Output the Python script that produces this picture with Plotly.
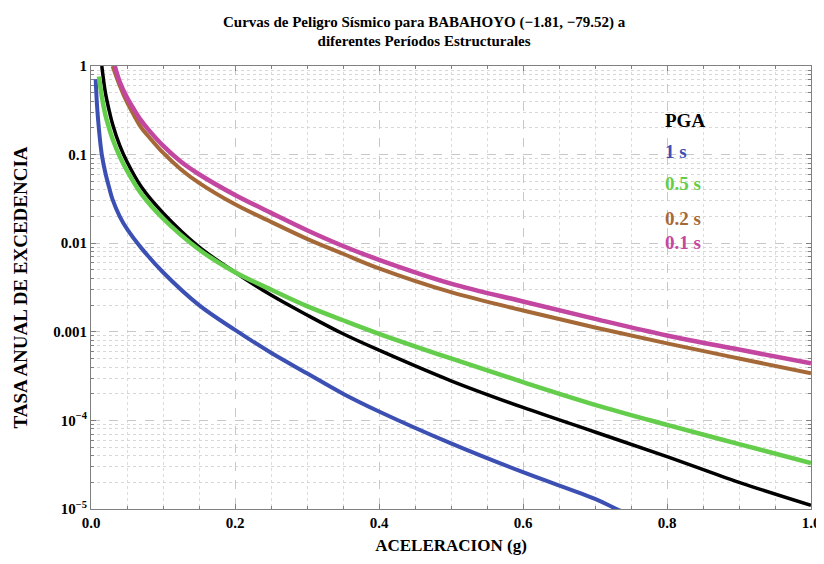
import plotly.graph_objects as go

# Curvas de peligro sísmico
x_pga = [0.015, 0.02, 0.025, 0.03, 0.04, 0.05, 0.07, 0.1, 0.15, 0.2, 0.25, 0.3, 0.35, 0.4, 0.5, 0.6, 0.7, 0.8, 0.9, 1.0]
y_pga = [1.0, 0.5, 0.32, 0.22, 0.126, 0.083, 0.043, 0.022, 0.0091, 0.0047, 0.0026, 0.00155, 9.5e-4, 6.2e-4,
         2.8e-4, 1.4e-4, 7.4e-5, 3.9e-5, 2.0e-5, 1.1e-5]

x_1s = [0.0065, 0.008, 0.01, 0.012, 0.015, 0.02, 0.025, 0.03, 0.04, 0.05, 0.07, 0.1, 0.15, 0.2, 0.25, 0.3,
        0.35, 0.4, 0.5, 0.6, 0.7, 0.73, 0.76]
y_1s = [0.71, 0.4, 0.24, 0.16, 0.1, 0.062, 0.043, 0.031, 0.02, 0.0145, 0.0088, 0.0047, 0.002, 0.00105,
        5.8e-4, 3.4e-4, 2.0e-4, 1.26e-4, 5.5e-5, 2.6e-5, 1.3e-5, 1.0e-5, 8e-6]

x_05s = [0.011, 0.015, 0.02, 0.025, 0.03, 0.04, 0.05, 0.07, 0.1, 0.15, 0.2, 0.25, 0.3, 0.35, 0.4, 0.5, 0.6,
         0.7, 0.8, 0.9, 1.0]
y_05s = [0.76, 0.45, 0.28, 0.2, 0.15, 0.095, 0.066, 0.036, 0.019, 0.0085, 0.0047, 0.003, 0.00195, 0.00135,
         9.5e-4, 5.0e-4, 2.7e-4, 1.5e-4, 8.9e-5, 5.4e-5, 3.3e-5]

x_02s = [0.03, 0.04, 0.05, 0.06, 0.07, 0.08, 0.1, 0.125, 0.15, 0.2, 0.25, 0.3, 0.35, 0.4, 0.5, 0.6, 0.7, 0.8,
         0.9, 1.0]
y_02s = [1.0, 0.6, 0.39, 0.275, 0.2, 0.16, 0.105, 0.068, 0.048, 0.0275, 0.0174, 0.0112, 0.0076, 0.0052,
         0.0028, 0.00174, 0.00112, 7.4e-4, 5.0e-4, 3.4e-4]

x_01s = [0.033, 0.04, 0.05, 0.06, 0.07, 0.08, 0.1, 0.125, 0.15, 0.2, 0.25, 0.3, 0.35, 0.4, 0.5, 0.6, 0.7, 0.8,
         0.9, 1.0]
y_01s = [1.0, 0.66, 0.44, 0.32, 0.24, 0.19, 0.126, 0.083, 0.06, 0.035, 0.022, 0.014, 0.0093, 0.0065, 0.0035,
         0.0022, 0.0014, 9.1e-4, 6.3e-4, 4.4e-4]

nombres = ["PGA", "1 s", "0.5 s", "0.2 s", "0.1 s"]
colores = ["black", "rgb(60,80,180)", "rgb(100,205,75)", "rgb(165,105,55)", "rgb(195,70,160)"]
anchos = [3.5, 4, 4.5, 4, 4.5]

fuente = "Liberation Serif"

fig = go.Figure()
series = [(x_pga, y_pga), (x_1s, y_1s), (x_05s, y_05s), (x_02s, y_02s), (x_01s, y_01s)]
for (xs, ys), nombre, color, ancho in zip(series, nombres, colores, anchos):
    fig.add_trace(go.Scatter(x=xs, y=ys, mode="lines", name=nombre,
                             line=dict(color=color, width=ancho, shape="spline", smoothing=1)))

# Leyenda como texto dentro del gráfico
pos_leyenda = [0.905, 0.836, 0.762, 0.684, 0.602]
for nombre, color, yp in zip(nombres, colores, pos_leyenda):
    fig.add_annotation(x=0.795, y=yp, xref="paper", yref="paper",
                       text="<b>%s</b>" % nombre, showarrow=False, xanchor="left",
                       font=dict(family=fuente, size=19, color=color))

grid_major = dict(gridcolor="rgb(200,200,200)", griddash="dash", gridwidth=1)

# la página tiene 8px de margen en el body; la figura sobresale a la derecha
# para que la etiqueta "1.0" quede cortada como en el original
fig.update_layout(
    width=824, height=556,
    margin=dict(l=79, r=20, t=58, b=40),
    paper_bgcolor="white", plot_bgcolor="white",
    showlegend=False,
    font=dict(family=fuente, size=15, color="black"),
    title=dict(text="<b>Curvas de Peligro Sísmico para BABAHOYO (−1.81, −79.52) a<br>diferentes Períodos Estructurales</b>",
               x=0.505, xanchor="center", y=0.966, yanchor="top",
               font=dict(family=fuente, size=15)),
    xaxis=dict(range=[0, 1], dtick=0.2, tickformat=".1f", showline=True, linecolor="gray", mirror="ticks",
               ticks="inside", ticklen=5, tickcolor="gray", zeroline=False,
               tickfont=dict(family=fuente, size=15, weight="bold"),
               title=dict(text="<b>ACELERACION (g)</b>", font=dict(family=fuente, size=17), standoff=9),
               minor=dict(dtick=0.05, showgrid=True, gridcolor="rgb(220,220,220)", griddash="dot",
                          ticks="inside", ticklen=3, tickcolor="gray"),
               **grid_major),
    yaxis=dict(type="log", range=[-5, 0], showline=True, linecolor="gray", mirror="ticks",
               ticks="inside", ticklen=5, tickcolor="gray",
               tickvals=[1, 0.1, 0.01, 0.001, 1e-4, 1e-5],
               ticktext=["1", "0.1", "0.01", "0.001", "10<sup>−4</sup>", "10<sup>−5</sup>"],
               tickfont=dict(family=fuente, size=15, weight="bold"),
               title=dict(text="<b>TASA ANUAL DE EXCEDENCIA</b>", font=dict(family=fuente, size=19), standoff=20),
               minor=dict(tickvals=[m * 10 ** e for e in range(-5, 0) for m in range(2, 10)],
                          showgrid=True, gridcolor="rgb(215,215,215)", griddash="dot",
                          ticks="inside", ticklen=3, tickcolor="gray"),
               **grid_major),
)

fig.write_html("out.html")
